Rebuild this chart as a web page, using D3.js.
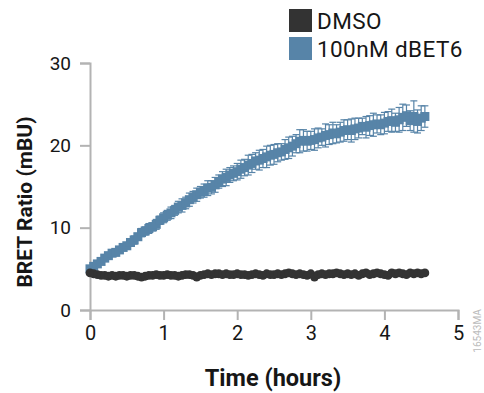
<!DOCTYPE html>
<html lang="en">
<head>
  <meta charset="utf-8">
  <title>BRET kinetics</title>
  <script src="https://cdn.jsdelivr.net/npm/d3@7/dist/d3.min.js"></script>
  <style>
    * { box-sizing: border-box; margin: 0; padding: 0; }
    body { background: #fff; font-family: Roboto, 'Noto Sans', sans-serif; overflow: hidden; }
    svg { display: block; }
  </style>
</head>
<body>
  <svg id="chart" width="484" height="393"></svg>

  <script>
    // time points (hours), one read every 3 min
    const TIME = [
      0.00, 0.05, 0.10, 0.15, 0.20, 0.25, 0.30, 0.35, 0.40, 0.45,
      0.50, 0.55, 0.60, 0.65, 0.70, 0.75, 0.80, 0.85, 0.90, 0.95,
      1.00, 1.05, 1.10, 1.15, 1.20, 1.25, 1.30, 1.35, 1.40, 1.45,
      1.50, 1.55, 1.60, 1.65, 1.70, 1.75, 1.80, 1.85, 1.90, 1.95,
      2.00, 2.05, 2.10, 2.15, 2.20, 2.25, 2.30, 2.35, 2.40, 2.45,
      2.50, 2.55, 2.60, 2.65, 2.70, 2.75, 2.80, 2.85, 2.90, 2.95,
      3.00, 3.05, 3.10, 3.15, 3.20, 3.25, 3.30, 3.35, 3.40, 3.45,
      3.50, 3.55, 3.60, 3.65, 3.70, 3.75, 3.80, 3.85, 3.90, 3.95,
      4.00, 4.05, 4.10, 4.15, 4.20, 4.25, 4.30, 4.35, 4.40, 4.45,
      4.50, 4.55
    ]

    const DBET6 = [
      5.0, 5.3, 5.6, 5.9, 6.3, 6.6, 6.9, 7.0, 7.3, 7.6,
      7.8, 8.2, 8.5, 8.9, 9.4, 9.6, 9.9, 10.1, 10.4, 10.9,
      11.2, 11.5, 11.8, 12.1, 12.5, 12.7, 13.0, 13.4, 13.7, 14.0,
      14.3, 14.5, 14.8, 14.9, 15.2, 15.6, 15.9, 16.1, 16.4, 16.6,
      16.8, 17.1, 17.3, 17.6, 17.8, 18.1, 18.2, 18.4, 18.6, 18.8,
      18.9, 19.1, 19.2, 19.5, 19.7, 19.9, 20.2, 20.5, 20.6, 20.5,
      20.6, 20.7, 20.9, 21.0, 21.2, 21.3, 21.5, 21.4, 21.6, 21.8,
      21.9, 21.8, 22.0, 22.1, 22.3, 22.2, 22.4, 22.5, 22.6, 22.5,
      22.7, 22.9, 23.0, 22.8, 23.1, 23.4, 23.6, 23.0, 23.5, 22.9,
      23.3, 23.5
    ]
    const DBET6_ERR = [
      0.3, 0.3, 0.3, 0.3, 0.4, 0.3, 0.4, 0.4, 0.3, 0.4,
      0.4, 0.4, 0.5, 0.4, 0.5, 0.5, 0.6, 0.5, 0.6, 0.5,
      0.6, 0.6, 0.7, 0.6, 0.7, 0.8, 0.7, 0.8, 0.7, 0.8,
      0.7, 0.8, 0.9, 0.8, 0.9, 0.8, 0.9, 1.0, 0.9, 0.9,
      1.0, 1.1, 1.0, 1.2, 1.1, 1.0, 1.2, 1.1, 1.3, 1.2,
      1.2, 1.1, 1.0, 1.2, 1.3, 1.2, 1.1, 1.4, 1.3, 1.2,
      1.1, 1.3, 1.2, 1.0, 1.4, 1.2, 1.3, 1.1, 1.2, 1.3,
      1.2, 1.4, 1.3, 1.2, 1.0, 1.3, 1.2, 1.4, 1.1, 1.2,
      1.3, 1.2, 1.4, 1.1, 1.5, 1.6, 1.3, 1.2, 1.9, 1.4,
      1.5, 1.3
    ]

    const DMSO = [
      4.5, 4.4, 4.3, 4.2, 4.2, 4.1, 4.2, 4.1, 4.2, 4.2,
      4.1, 4.2, 4.2, 4.1, 4.0, 4.1, 4.2, 4.2, 4.3, 4.2,
      4.2, 4.3, 4.2, 4.2, 4.1, 4.2, 4.3, 4.3, 4.2, 4.0,
      4.2, 4.3, 4.4, 4.3, 4.4, 4.4, 4.3, 4.4, 4.3, 4.3,
      4.4, 4.3, 4.3, 4.2, 4.3, 4.4, 4.3, 4.2, 4.4, 4.3,
      4.3, 4.4, 4.3, 4.4, 4.5, 4.4, 4.3, 4.4, 4.3, 4.2,
      4.4, 4.0, 4.3, 4.4, 4.3, 4.4, 4.4, 4.5, 4.4, 4.3,
      4.4, 4.3, 4.4, 4.2, 4.4, 4.5, 4.3, 4.4, 4.5, 4.4,
      4.3, 4.2, 4.5, 4.4, 4.5, 4.4, 4.3, 4.5, 4.4, 4.5,
      4.4, 4.5
    ]
    const DMSO_ERR = [
      0.2, 0.2, 0.2, 0.2, 0.2, 0.2, 0.2, 0.2, 0.2, 0.2,
      0.2, 0.2, 0.2, 0.2, 0.2, 0.2, 0.2, 0.2, 0.2, 0.2,
      0.2, 0.2, 0.2, 0.2, 0.2, 0.2, 0.2, 0.2, 0.2, 0.2,
      0.2, 0.2, 0.2, 0.2, 0.2, 0.2, 0.2, 0.2, 0.2, 0.2,
      0.2, 0.2, 0.2, 0.2, 0.2, 0.2, 0.2, 0.2, 0.2, 0.2,
      0.2, 0.2, 0.2, 0.2, 0.3, 0.2, 0.2, 0.2, 0.2, 0.2,
      0.2, 0.2, 0.2, 0.2, 0.2, 0.2, 0.2, 0.3, 0.2, 0.2,
      0.2, 0.2, 0.2, 0.2, 0.2, 0.3, 0.2, 0.2, 0.2, 0.2,
      0.2, 0.2, 0.3, 0.2, 0.2, 0.2, 0.2, 0.2, 0.2, 0.2,
      0.2, 0.2
    ]

    const X_TICKS = [0, 1, 2, 3, 4, 5]
    const Y_TICKS = [0, 10, 20, 30]
    const LEGEND = ['DMSO', '100nM dBET6']

    const BLUE = '#5784a8'
    const DARK = '#333333'
    const AXIS = '#b3b3b3'
    const INK = '#161616'

    const svg = d3.select('#chart')

    const x = d3.scaleLinear().domain([0, 5]).range([90, 458])
    const y = d3.scaleLinear().domain([0, 30]).range([310, 63])

    // axes
    const xAxis = svg.append('g')
      .attr('transform', 'translate(0,' + y(0) + ')')
      .call(d3.axisBottom(x).tickValues(X_TICKS).tickSize(10).tickPadding(6).tickFormat(d3.format('d')))
    const yAxis = svg.append('g')
      .attr('transform', 'translate(' + x(0) + ',0)')
      .call(d3.axisLeft(y).tickValues(Y_TICKS).tickSize(10).tickPadding(9).tickFormat(d3.format('d')))

    for (const ax of [xAxis, yAxis]) {
      ax.select('.domain').attr('stroke', AXIS).attr('stroke-width', 2)
      ax.selectAll('.tick line').attr('stroke', AXIS).attr('stroke-width', 2)
      ax.selectAll('.tick text')
        .attr('fill', INK)
        .attr('font-family', 'Roboto, sans-serif')
    }
    xAxis.selectAll('.tick text').attr('font-size', 20)
    yAxis.selectAll('.tick text').attr('font-size', 19)

    svg.append('text')
      .attr('x', 273).attr('y', 386)
      .attr('text-anchor', 'middle')
      .attr('font-family', 'Roboto, sans-serif')
      .attr('font-weight', 'bold')
      .attr('font-size', 23.5)
      .attr('fill', INK)
      .text('Time (hours)')

    svg.append('text')
      .attr('transform', 'translate(32,202) rotate(-90)')
      .attr('text-anchor', 'middle')
      .attr('font-family', 'Roboto, sans-serif')
      .attr('font-weight', 'bold')
      .attr('font-size', 21)
      .attr('fill', INK)
      .text('BRET Ratio (mBU)')

    svg.append('text')
      .attr('transform', 'translate(481,331) rotate(-90)')
      .attr('text-anchor', 'middle')
      .attr('font-family', 'Roboto, sans-serif')
      .attr('font-size', 10)
      .attr('fill', '#bbb')
      .text('16543MA')

    function drawSeries(vals, errs, color, shape) {
      const pts = TIME.map((t, i) => ({ t, v: vals[i], e: errs[i] }))
      const g = svg.append('g')
      const eb = g.append('g').attr('stroke', color).attr('stroke-width', 1.2)
      eb.selectAll('line.v').data(pts).join('line').attr('class', 'v')
        .attr('x1', d => x(d.t)).attr('x2', d => x(d.t))
        .attr('y1', d => y(d.v - d.e)).attr('y2', d => y(d.v + d.e))
      eb.selectAll('line.top').data(pts).join('line').attr('class', 'top')
        .attr('x1', d => x(d.t) - 3.5).attr('x2', d => x(d.t) + 3.5)
        .attr('y1', d => y(d.v + d.e)).attr('y2', d => y(d.v + d.e))
      eb.selectAll('line.bot').data(pts).join('line').attr('class', 'bot')
        .attr('x1', d => x(d.t) - 3.5).attr('x2', d => x(d.t) + 3.5)
        .attr('y1', d => y(d.v - d.e)).attr('y2', d => y(d.v - d.e))
      if (shape === 'square') {
        g.selectAll('rect').data(pts).join('rect')
          .attr('x', d => x(d.t) - 4.5).attr('y', d => y(d.v) - 4.5)
          .attr('width', 9).attr('height', 9)
          .attr('fill', color)
      } else {
        g.selectAll('circle').data(pts).join('circle')
          .attr('cx', d => x(d.t)).attr('cy', d => y(d.v))
          .attr('r', 4.4)
          .attr('fill', color)
      }
    }

    drawSeries(DBET6, DBET6_ERR, BLUE, 'square')
    drawSeries(DMSO, DMSO_ERR, DARK, 'circle')

    // legend
    const leg = svg.append('g')
    LEGEND.forEach((name, i) => {
      leg.append('rect')
        .attr('x', 289).attr('y', 9 + i * 28)
        .attr('width', 23).attr('height', 23)
        .attr('fill', i === 0 ? DARK : BLUE)
      leg.append('text')
        .attr('x', 317).attr('y', 28.5 + i * 28)
        .attr('font-family', 'Roboto, sans-serif')
        .attr('font-size', 22.5)
        .attr('letter-spacing', 0.4)
        .attr('fill', INK)
        .text(name)
    })
  </script>
</body>
</html>
